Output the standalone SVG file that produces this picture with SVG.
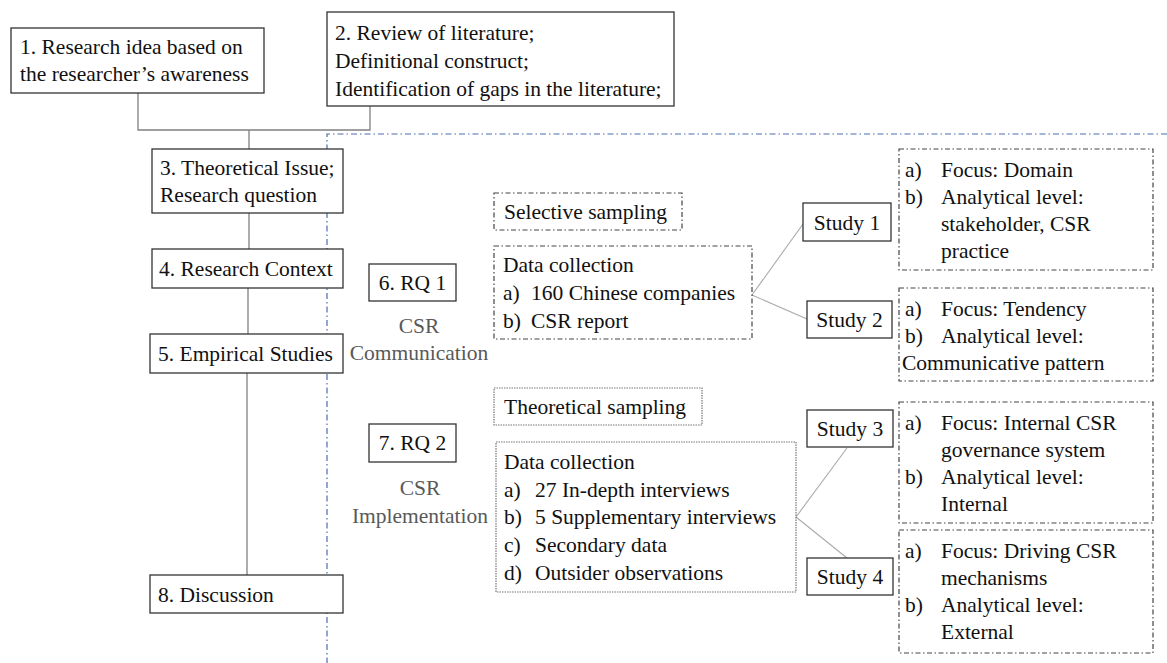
<svg xmlns="http://www.w3.org/2000/svg" width="1167" height="663" viewBox="0 0 1167 663" font-family="'Liberation Serif', 'Times New Roman', serif">
<style>
text{font-family:"Liberation Serif","Times New Roman",serif;font-size:21.5px;fill:#111}
.box{fill:#fff;stroke:#333;stroke-width:1.3}
.dd{fill:none;stroke:#444;stroke-width:1.2;stroke-dasharray:5 2.5 1.5 2.5}
.dot{fill:none;stroke:#777;stroke-width:1.2;stroke-dasharray:1.5 1}
.ln{fill:none;stroke:#808080;stroke-width:1.3}
.ln2{fill:none;stroke:#aaa;stroke-width:1.1}
.blue{fill:none;stroke:#4a6db0;stroke-width:1.2;stroke-dasharray:6 3 1.5 3}
.gray{fill:#595959}
.c{text-anchor:middle}
</style>
<g id="connectors">
<path class="ln" d="M138,93 V130 H370 V106"/>
<path class="ln" d="M249,130 V149"/>
<path class="ln" d="M249,213 V249"/>
<path class="ln" d="M248,288 V334"/>
<path class="ln" d="M247,373 V575"/>
<path class="ln2" d="M752,295 L803,224"/>
<path class="ln2" d="M752,295 L807,319"/>
<path class="ln2" d="M796,517 L847,448"/>
<path class="ln2" d="M796,517 L847,558"/>
</g>
<path class="blue" d="M1167,134 H327 V663"/>
<g id="n1"><rect class="box" x="11" y="28" width="253" height="65"/>
<text x="20" y="54">1. Research idea based on</text><text x="20" y="81">the researcher’s awareness</text></g>
<g id="n2"><rect class="box" x="327" y="12" width="347" height="94"/>
<text x="335" y="40">2. Review of literature;</text><text x="335" y="68">Definitional construct;</text><text x="335" y="96">Identification of gaps in the literature;</text></g>
<g id="n3"><rect class="box" x="152" y="149" width="191" height="64"/>
<text x="160" y="175">3. Theoretical Issue;</text><text x="160" y="202">Research question</text></g>
<g id="n4"><rect class="box" x="152" y="249" width="191" height="39"/>
<text x="159" y="276">4. Research Context</text></g>
<g id="n5"><rect class="box" x="150" y="334" width="193" height="39"/>
<text x="158" y="361">5. Empirical Studies</text></g>
<g id="n8"><rect class="box" x="150" y="575" width="193" height="38"/>
<text x="158" y="602">8. Discussion</text></g>
<g id="rq1"><rect class="box" x="369" y="264" width="87" height="37"/>
<text class="c" x="412.5" y="290">6. RQ 1</text></g>
<g id="csr1"><text class="c gray" x="419" y="333">CSR</text><text class="c gray" x="419" y="360">Communication</text></g>
<g id="sel"><rect class="dd" x="494" y="193" width="188" height="37"/>
<text x="504" y="219">Selective sampling</text></g>
<g id="dc1"><rect class="dd" x="494" y="246" width="258" height="93"/>
<text x="503" y="272">Data collection</text>
<text x="503" y="300">a)</text><text x="531" y="300">160 Chinese companies</text>
<text x="503" y="328">b)</text><text x="531" y="328">CSR report</text></g>
<g id="s1"><rect class="box" x="803" y="203" width="88" height="38"/>
<text class="c" x="847" y="230">Study 1</text></g>
<g id="s2"><rect class="box" x="807" y="301" width="85" height="37"/>
<text class="c" x="849.5" y="327">Study 2</text></g>
<g id="fa"><rect class="dd" x="899" y="149" width="254" height="121"/>
<text x="905" y="177">a)</text><text x="941" y="177">Focus: Domain</text>
<text x="905" y="204">b)</text><text x="941" y="204">Analytical level:</text>
<text x="941" y="231">stakeholder, CSR</text>
<text x="941" y="258">practice</text></g>
<g id="fb"><rect class="dd" x="899" y="288" width="254" height="93"/>
<text x="905" y="316">a)</text><text x="941" y="316">Focus: Tendency</text>
<text x="905" y="343">b)</text><text x="941" y="343">Analytical level:</text>
<text x="902" y="370">Communicative pattern</text></g>
<g id="theo"><rect class="dot" x="494" y="388" width="208" height="37"/>
<text x="504" y="414">Theoretical sampling</text></g>
<g id="rq2"><rect class="box" x="369" y="424" width="87" height="38"/>
<text class="c" x="412.5" y="450">7. RQ 2</text></g>
<g id="csr2"><text class="c gray" x="420" y="495">CSR</text><text class="c gray" x="420" y="523">Implementation</text></g>
<g id="dc2"><rect class="dot" x="496" y="442" width="300" height="150"/>
<text x="504" y="469">Data collection</text>
<text x="504" y="497">a)</text><text x="535" y="497">27 In-depth interviews</text>
<text x="504" y="524">b)</text><text x="535" y="524">5 Supplementary interviews</text>
<text x="504" y="552">c)</text><text x="535" y="552">Secondary data</text>
<text x="504" y="580">d)</text><text x="535" y="580">Outsider observations</text></g>
<g id="s3"><rect class="box" x="807" y="410" width="86" height="37"/>
<text class="c" x="850" y="436">Study 3</text></g>
<g id="s4"><rect class="box" x="807" y="558" width="86" height="37"/>
<text class="c" x="850" y="584">Study 4</text></g>
<g id="fc"><rect class="dd" x="899" y="402" width="254" height="121"/>
<text x="905" y="430">a)</text><text x="941" y="430">Focus: Internal CSR</text>
<text x="941" y="457">governance system</text>
<text x="905" y="484">b)</text><text x="941" y="484">Analytical level:</text>
<text x="941" y="511">Internal</text></g>
<g id="fd"><rect class="dd" x="899" y="530" width="254" height="123"/>
<text x="905" y="558">a)</text><text x="941" y="558">Focus: Driving CSR</text>
<text x="941" y="585">mechanisms</text>
<text x="905" y="612">b)</text><text x="941" y="612">Analytical level:</text>
<text x="941" y="639">External</text></g>
</svg>
